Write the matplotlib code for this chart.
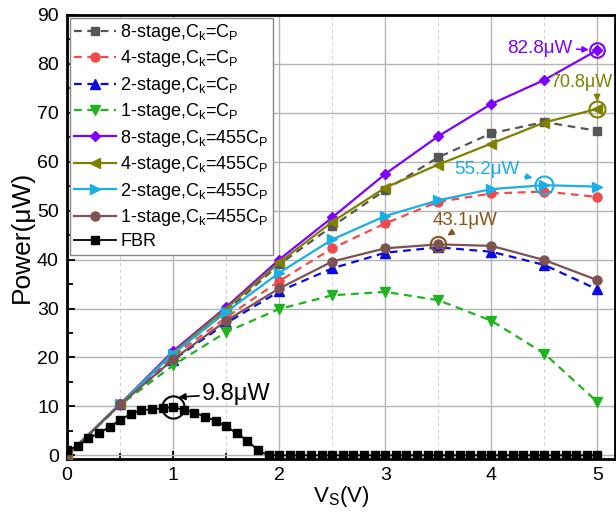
import matplotlib
matplotlib.use("Agg")
import matplotlib.pyplot as plt
from matplotlib.ticker import MultipleLocator

plt.rcParams['font.family'] = ['Liberation Sans', 'DejaVu Sans']
plt.rcParams['mathtext.fontset'] = 'custom'
plt.rcParams['mathtext.rm'] = 'Liberation Sans'
plt.rcParams['mathtext.it'] = 'Liberation Sans:italic'

# ---- data ----
vs = [0, 0.5, 1, 1.5, 2, 2.5, 3, 3.5, 4, 4.5, 5]
p8_cp = [0, 10.4, 20.6, 29.4, 39.0, 46.8, 54.2, 60.9, 65.8, 68.1, 66.3]
p4_cp = [0, 10.4, 20.2, 28.2, 35.6, 42.3, 47.4, 51.8, 53.5, 53.9, 52.8]
p2_cp = [0, 10.4, 19.5, 27.0, 33.5, 38.2, 41.4, 42.5, 41.6, 38.9, 33.9]
p1_cp = [0, 10.3, 18.4, 25.2, 29.9, 32.7, 33.4, 31.7, 27.5, 20.8, 10.9]
p8_455 = [0, 10.5, 21.3, 30.3, 40.0, 48.6, 57.5, 65.2, 71.8, 76.7, 82.8]
p4_455 = [0, 10.5, 21.0, 30.0, 39.4, 47.7, 54.7, 59.4, 63.7, 68.0, 70.8]
p2_455 = [0, 10.5, 20.8, 29.3, 37.3, 44.1, 48.9, 52.1, 54.4, 55.2, 54.9]
p1_455 = [0, 10.4, 19.6, 27.5, 34.1, 39.6, 42.3, 43.1, 42.8, 39.9, 35.8]

vs_fbr = [round(0.1 * i, 1) for i in range(51)]
p_fbr = [1.1, 1.9, 3.5, 4.5, 5.8, 7.2, 8.5, 9.2, 9.4, 9.6, 9.8, 9.3, 8.75, 7.9,
         7.05, 5.9, 4.5, 3.0, 1.0] + [0.0] * 32

labels = [
    r'8-stage,C$_\mathregular{k}$=C$_\mathregular{P}$',
    r'4-stage,C$_\mathregular{k}$=C$_\mathregular{P}$',
    r'2-stage,C$_\mathregular{k}$=C$_\mathregular{P}$',
    r'1-stage,C$_\mathregular{k}$=C$_\mathregular{P}$',
    r'8-stage,C$_\mathregular{k}$=455C$_\mathregular{P}$',
    r'4-stage,C$_\mathregular{k}$=455C$_\mathregular{P}$',
    r'2-stage,C$_\mathregular{k}$=455C$_\mathregular{P}$',
    r'1-stage,C$_\mathregular{k}$=455C$_\mathregular{P}$',
    'FBR',
]

fig = plt.figure(figsize=(6.16, 5.12), dpi=100)
ax = fig.add_axes([0.109, 0.104, 0.890, 0.867])

dash = (0, (3.5, 2.5))
lw = 1.6
ax.plot(vs, p8_cp, color='#555555', ls=dash, lw=lw, marker='s', ms=6, label=labels[0], zorder=3)
ax.plot(vs, p4_cp, color='#f24a4a', ls=dash, lw=lw, marker='o', ms=6.5, label=labels[1], zorder=3)
ax.plot(vs, p2_cp, color='#0a0ae6', ls=dash, lw=lw, marker='^', ms=7, label=labels[2], zorder=3)
ax.plot(vs, p1_cp, color='#1eb41e', ls=dash, lw=lw, marker='v', ms=7, label=labels[3], zorder=3)
ax.plot(vs, p8_455, color='#8000ff', ls='-', lw=lw, marker='D', ms=5.5, label=labels[4], zorder=3)
ax.plot(vs, p4_455, color='#808000', ls='-', lw=lw, marker='<', ms=7, label=labels[5], zorder=3)
ax.plot(vs, p2_455, color='#1aaee6', ls='-', lw=lw, marker='>', ms=7, label=labels[6], zorder=3)
ax.plot(vs, p1_455, color='#7d5252', ls='-', lw=lw, marker='o', ms=6.5, label=labels[7], zorder=3)
ax.plot(vs_fbr, p_fbr, color='black', ls='-', lw=1.3, marker='s', ms=5.5, label=labels[8], zorder=4)

# annotations
def mark(x, y, color, size):
    ax.plot([x], [y], marker='o', ms=size, mfc='none', mec=color, mew=1.5, zorder=5)

mark(1, 9.8, 'black', 16)
ax.annotate('9.8\u03bcW', xy=(1.05, 11.9), xytext=(1.27, 12.6), fontsize=17,
            color='black', ha='left', va='center',
            arrowprops=dict(arrowstyle='-|>', color='black', lw=1.2, mutation_scale=10,
                            shrinkA=0, shrinkB=0))
mark(5, 82.8, '#8000ff', 10.5)
ax.annotate('82.8\u03bcW', xy=(4.92, 82.9), xytext=(4.15, 83.2), fontsize=13.5,
            color='#8000ff', ha='left', va='center',
            arrowprops=dict(arrowstyle='-|>', color='#8000ff', lw=1.2, mutation_scale=9,
                            shrinkA=1, shrinkB=0))
mark(5, 70.8, '#808000', 11.5)
ax.annotate('70.8\u03bcW', xy=(5.0, 72.3), xytext=(4.55, 76.1), fontsize=13,
            color='#808000', ha='left', va='center',
            arrowprops=dict(arrowstyle='-|>', color='#808000', lw=1.2, mutation_scale=9,
                            shrinkA=0, shrinkB=0, relpos=(0.76, 0.0)))
mark(4.5, 55.2, '#1aaee6', 13)
ax.annotate('55.2\u03bcW', xy=(4.39, 56.7), xytext=(3.65, 58.5), fontsize=13.5,
            color='#1aaee6', ha='left', va='center',
            arrowprops=dict(arrowstyle='-|>', color='#1aaee6', lw=1.2, mutation_scale=9,
                            shrinkA=2, shrinkB=0))
mark(3.5, 43.1, '#85561a', 11)
ax.annotate('43.1\u03bcW', xy=(3.585, 44.9), xytext=(3.45, 48.0), fontsize=13.5,
            color='#85561a', ha='left', va='center',
            arrowprops=dict(arrowstyle='-|>', color='#85561a', lw=1.2, mutation_scale=9,
                            shrinkA=0, shrinkB=0, relpos=(0.38, 0.0)))

ax.set_xlim(0, 5.17)
ax.set_ylim(-0.7, 90)
ax.xaxis.set_major_locator(MultipleLocator(1))
ax.xaxis.set_minor_locator(MultipleLocator(0.5))
ax.yaxis.set_major_locator(MultipleLocator(10))
ax.yaxis.set_minor_locator(MultipleLocator(5))
ax.grid(which='major', color='#b4b4b4', lw=1.0, ls='-')
ax.grid(which='minor', axis='x', color='#d0d0d0', lw=0.8, ls=(0, (3, 3)))
ax.set_axisbelow(True)
ax.tick_params(which='both', direction='in', labelsize=14, width=1.3, top=False, right=False)
ax.tick_params(which='major', length=6, pad=6)
ax.tick_params(which='minor', length=4)
for s in ax.spines.values():
    s.set_linewidth(2)
ax.set_xlabel(r'V$_\mathregular{S}$(V)', fontsize=16, labelpad=0)
ax.set_ylabel('Power(\u03bcW)', fontsize=19, labelpad=2)

leg = ax.legend(loc='upper left', fontsize=13, frameon=True, fancybox=False,
                edgecolor='#888888', borderaxespad=0.15, handlelength=2.3,
                labelspacing=0.3, borderpad=0.25, handletextpad=0.25)
leg.get_frame().set_linewidth(1.0)
leg.get_frame().set_alpha(1)

fig.savefig('out.png', dpi=100)
